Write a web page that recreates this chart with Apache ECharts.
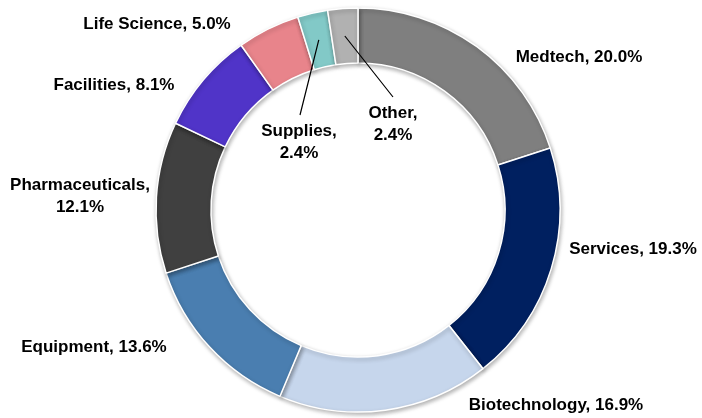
<!DOCTYPE html>
<html><head><meta charset="utf-8">
<script src="https://cdn.jsdelivr.net/npm/echarts@6/dist/echarts.min.js"></script>
<style>html,body{margin:0;padding:0;background:#fff}#c{width:702px;height:418px}</style>
</head><body><div id="c"></div>
<script>
var categories = ['Medtech','Services','Biotechnology','Equipment','Pharmaceuticals','Facilities','Life Science','Supplies','Other'];
var values = [20.0, 19.3, 16.9, 13.6, 12.1, 8.1, 5.0, 2.4, 2.4];
var colors = ['#7f7f7f','#002060','#c6d6ec','#4a7eb0','#404040','#5034c8','#e8848b','#82c9c7','#b1b1b1'];
var twoLine = {'Pharmaceuticals':1,'Supplies':1,'Other':1};
var innerLabel = {'Supplies':1,'Other':1};
// label centre positions (layout)
var labelPos = [[579,57],[633,249],[556,405],[94,347],[80,196],[114,85],[157,24],[299,142],[393,124]];
var lineEnd = {'Supplies':[300,115],'Other':[393,97]};

var CX = 358, CY = 210, R0 = 147, R1 = 202;
var total = values.reduce(function(a,b){return a+b;},0);
function midPoint(i){
  var cum = 0; for (var k=0;k<i;k++) cum += values[k];
  var f = (cum + values[i]/2)/total;
  var a = f*2*Math.PI, r = (R0+R1)/2;
  return [CX + r*Math.sin(a), CY - r*Math.cos(a)];
}

var labelStyle = {
  color:'#000',
  fontFamily:'Liberation Sans, Arial, sans-serif',
  fontWeight:'bold',
  fontSize:17,
  lineHeight:22,
  align:'center',
  formatter:function(p){
    var v = p.value.toFixed(1)+'%';
    return p.name + ',' + (twoLine[p.name] ? '\n' : ' ') + v;
  }
};
function layoutFn(p){
  var i = p.dataIndex;
  var name = categories[i];
  var o = {x:labelPos[i][0], y:labelPos[i][1], align:'center', verticalAlign:'middle'};
  if (innerLabel[name]) {
    var s = midPoint(i), e = lineEnd[name];
    o.labelLinePoints = [s, [(s[0]+e[0])/2,(s[1]+e[1])/2], e];
  }
  return o;
}

var chart = echarts.init(document.getElementById('c'), null, {renderer:'canvas'});
chart.setOption({
  animation:false,
  series:[{
    type:'pie',
    z:2,
    center:[CX,CY],
    radius:[R0,R1],
    startAngle:90,
    clockwise:true,
    avoidLabelOverlap:false,
    itemStyle:{borderColor:'#fff',borderWidth:1.5,shadowBlur:4,shadowOffsetX:1,shadowOffsetY:2,shadowColor:'rgba(0,0,0,0.3)'},
    label:Object.assign({show:true}, labelStyle),
    labelLine:{show:false},
    labelLayout:layoutFn,
    data: categories.map(function(c,i){
      var d = {name:c, value:values[i], itemStyle:{color:colors[i]}};
      if (innerLabel[c]) d.label = {show:false};
      return d;
    })
  },{
    type:'pie',
    z:5,
    silent:true,
    center:[CX,CY],
    radius:[R0,R1],
    startAngle:90,
    clockwise:true,
    avoidLabelOverlap:false,
    itemStyle:{color:'rgba(0,0,0,0)',borderWidth:0},
    label:Object.assign({show:false}, labelStyle),
    labelLine:{show:false},
    labelLayout:layoutFn,
    data: categories.map(function(c,i){
      var d = {name:c, value:values[i]};
      if (innerLabel[c]) {
        d.label = {show:true};
        d.labelLine = {show:true, length:10, length2:10, lineStyle:{color:'#000',width:1.2}};
      }
      return d;
    })
  }]
});
</script>
</body></html>
